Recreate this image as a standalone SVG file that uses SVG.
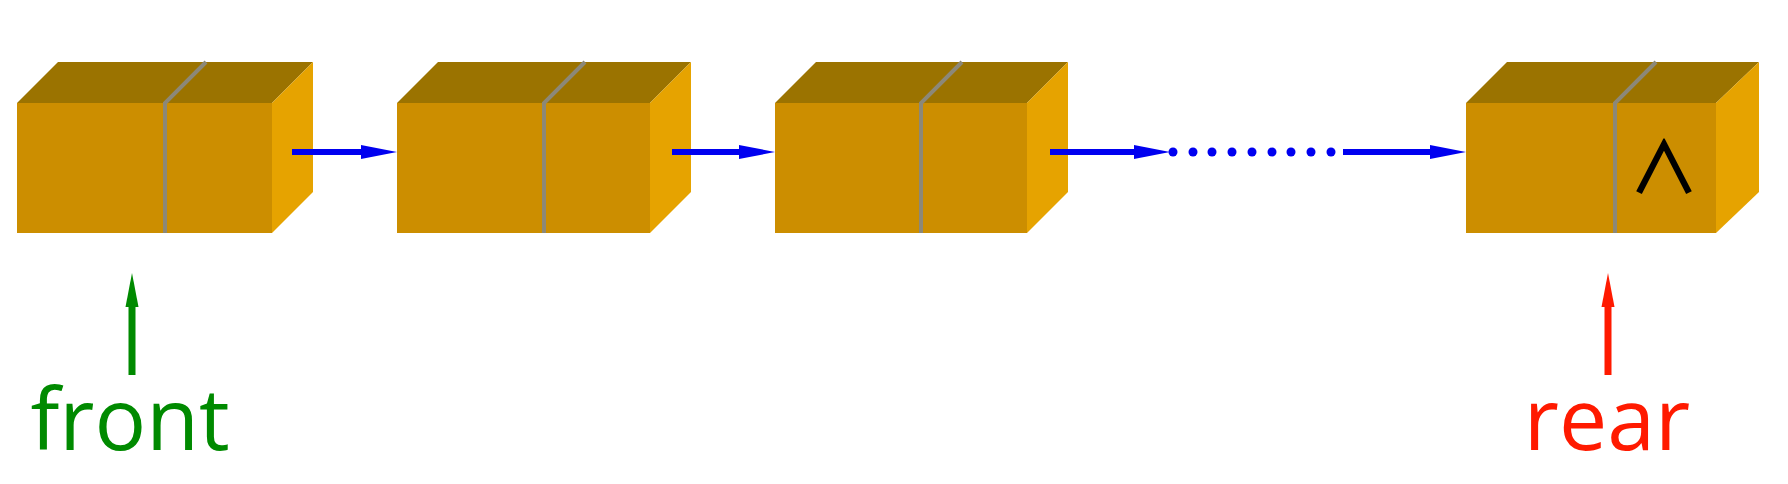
<svg xmlns="http://www.w3.org/2000/svg" width="1788" height="484" viewBox="0 0 1788 484">
<style>
.front{fill:#CC8E00}
.top{fill:#9B7300}
.side{fill:#E6A300}
.div{stroke:#8C8878;stroke-width:4;fill:none}
.blue{stroke:#0000F0;stroke-width:6;fill:none}
.dot{fill:#0000F0}
.lbl{font-family:"Open Sans","Noto Sans",sans-serif;font-size:86px}
</style>
<defs>
<marker id="ab" markerUnits="userSpaceOnUse" markerWidth="36" markerHeight="16" viewBox="0 0 36 16" refX="1" refY="8" orient="auto">
<path d="M0,1 L36,8 L0,15 z" fill="#0000F0"/>
</marker>
<marker id="ag" markerUnits="userSpaceOnUse" markerWidth="34" markerHeight="14" viewBox="0 0 34 14" refX="1" refY="7" orient="auto">
<path d="M0,0.5 L34,7 L0,13.5 z" fill="#008A00"/>
</marker>
<marker id="ar" markerUnits="userSpaceOnUse" markerWidth="34" markerHeight="14" viewBox="0 0 34 14" refX="1" refY="7" orient="auto">
<path d="M0,0.5 L34,7 L0,13.5 z" fill="#FF1A00"/>
</marker>
</defs>
<rect width="1788" height="484" fill="#FFFFFF"/>

<g id="node1">
<polygon class="top" points="17,103 58,62 313,62 272,103"/>
<polygon class="side" points="272,103 313,62 313,192 272,233"/>
<rect class="front" x="17" y="103" width="255" height="130"/>
<path class="div" d="M165,233 L165,103 L206,62"/>
</g>
<g id="node2">
<polygon class="top" points="397,103 438,62 691,62 650,103"/>
<polygon class="side" points="650,103 691,62 691,192 650,233"/>
<rect class="front" x="397" y="103" width="253" height="130"/>
<path class="div" d="M544,233 L544,103 L585,62"/>
</g>
<g id="node3">
<polygon class="top" points="775,103 816,62 1068,62 1027,103"/>
<polygon class="side" points="1027,103 1068,62 1068,192 1027,233"/>
<rect class="front" x="775" y="103" width="252" height="130"/>
<path class="div" d="M921,233 L921,103 L962,62"/>
</g>
<g id="node4">
<polygon class="top" points="1466,103 1507,62 1759,62 1716,103"/>
<polygon class="side" points="1716,103 1759,62 1759,192 1716,233"/>
<rect class="front" x="1466" y="103" width="250" height="130"/>
<path class="div" d="M1615,233 L1615,103 L1656,62"/>
<text x="1664" y="193" text-anchor="middle" font-family="'Noto Sans CJK SC', sans-serif" font-size="69" fill="#000000" stroke="#000000" stroke-width="1.6">∧</text>
</g>

<g id="connectors">
<path class="blue" d="M292,152 L362,152" marker-end="url(#ab)"/>
<path class="blue" d="M672,152 L740,152" marker-end="url(#ab)"/>
<path class="blue" d="M1050,152 L1135,152" marker-end="url(#ab)"/>
<g class="dot">
<circle cx="1173" cy="152" r="4.5"/>
<circle cx="1193" cy="152" r="4.5"/>
<circle cx="1212" cy="152" r="4.5"/>
<circle cx="1232" cy="152" r="4.5"/>
<circle cx="1252" cy="152" r="4.5"/>
<circle cx="1272" cy="152" r="4.5"/>
<circle cx="1291" cy="152" r="4.5"/>
<circle cx="1311" cy="152" r="4.5"/>
<circle cx="1331" cy="152" r="4.5"/>
</g>
<path class="blue" d="M1343,152 L1431,152" marker-end="url(#ab)"/>
<path d="M132,375 L132,306" stroke="#008A00" stroke-width="7" fill="none" marker-end="url(#ag)"/>
<path d="M1608,375 L1608,306" stroke="#FF1A00" stroke-width="7" fill="none" marker-end="url(#ar)"/>
</g>

<g id="labels">
<text class="lbl" x="130" y="450" text-anchor="middle" fill="#008A00">front</text>
<text class="lbl" x="1607" y="450" text-anchor="middle" fill="#FF1A00">rear</text>
</g>
</svg>
